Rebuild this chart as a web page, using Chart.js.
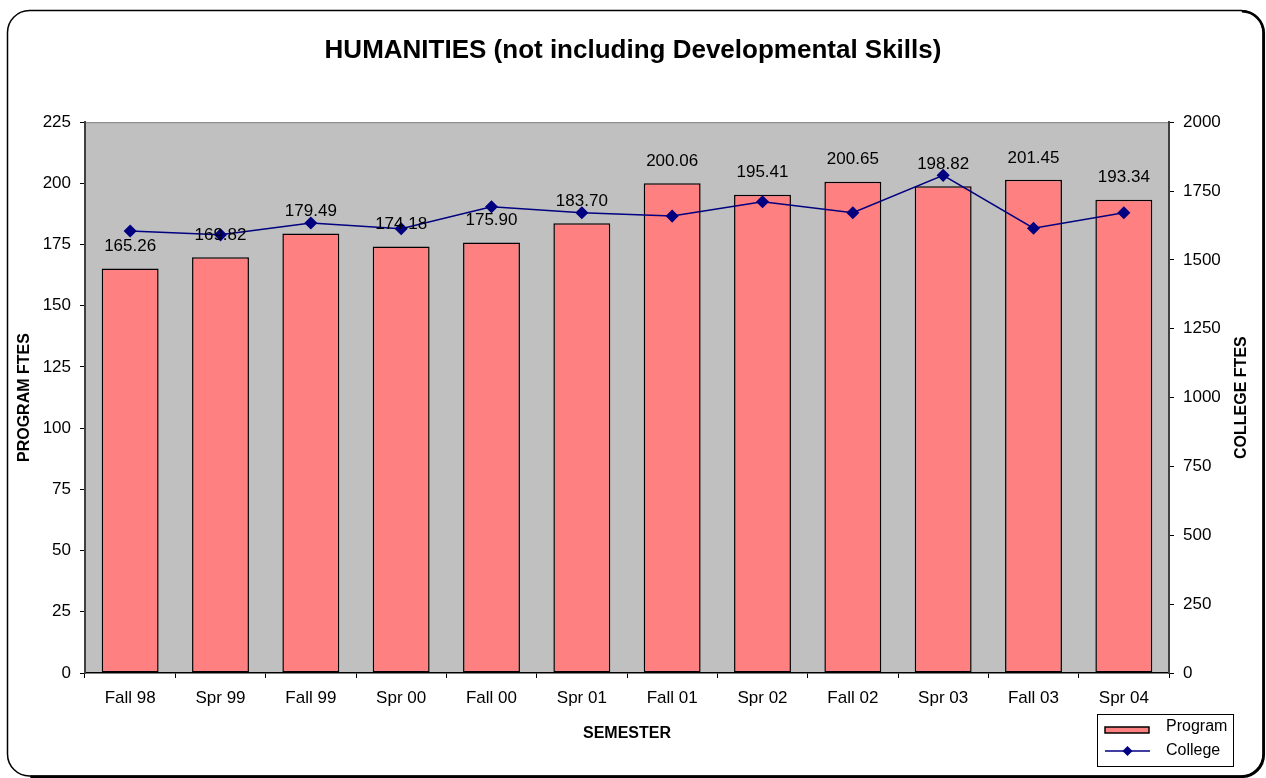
<!DOCTYPE html>
<html>
<head>
<meta charset="utf-8">
<title>HUMANITIES</title>
<script src="https://cdn.jsdelivr.net/npm/chart.js@4.4.1/dist/chart.umd.min.js"></script>
<style>
    body { margin: 0; background: #fff; }
    #myChart { display: block; }
</style>
</head>
<body>
<canvas id="myChart" width="1266" height="778"></canvas>
<script>
// datos
let semestres = ['Fall 98', 'Spr 99', 'Fall 99', 'Spr 00', 'Fall 00', 'Spr 01', 'Fall 01', 'Spr 02', 'Fall 02', 'Spr 03', 'Fall 03', 'Spr 04'];
let program_ftes = [165.26, 169.82, 179.49, 174.18, 175.90, 183.70, 200.06, 195.41, 200.65, 198.82, 201.45, 193.34];
let college_ftes = [1605, 1591, 1634, 1613, 1693, 1671, 1659, 1711, 1671, 1807, 1615, 1671];
let ticks_program = [0, 25, 50, 75, 100, 125, 150, 175, 200, 225];
let ticks_college = [0, 250, 500, 750, 1000, 1250, 1500, 1750, 2000];

let fuente = 'Arial, "Liberation Sans", sans-serif';
let color_barra = '#FF8080';
let color_linea = '#000080';

let barras = document.getElementById('myChart').getContext('2d');

// fondo gris del area y marco redondeado
let fondo = {
    id: 'fondo',
    beforeDraw: function (chart) {
        let ctx = chart.ctx;
        let a = chart.chartArea;
        ctx.save();
        ctx.fillStyle = '#fff';
        ctx.fillRect(0, 0, chart.width, chart.height);
        ctx.fillStyle = '#C0C0C0';
        ctx.fillRect(a.left, a.top, a.right - a.left, a.bottom - a.top);
        ctx.strokeStyle = '#808080';
        ctx.lineWidth = 1;
        ctx.beginPath();
        ctx.moveTo(a.left, a.top + 0.5);
        ctx.lineTo(a.right, a.top + 0.5);
        ctx.stroke();
        ctx.restore();
    },
    afterDraw: function (chart) {
        let ctx = chart.ctx;
        let l = 7.5, t = 10.5, r = 1263, b = 776, rad = 22;
        ctx.save();
        ctx.strokeStyle = '#000';
        ctx.lineWidth = 1.5;
        ctx.beginPath();
        ctx.moveTo(l + rad, t);
        ctx.lineTo(r - rad, t);
        ctx.arcTo(r, t, r, t + rad, rad);
        ctx.lineTo(r, b - rad);
        ctx.arcTo(r, b, r - rad, b, rad);
        ctx.lineTo(l + rad, b);
        ctx.arcTo(l, b, l, b - rad, rad);
        ctx.lineTo(l, t + rad);
        ctx.arcTo(l, t, l + rad, t, rad);
        ctx.closePath();
        ctx.stroke();
        // sombra derecha / abajo
        ctx.lineWidth = 2.5;
        ctx.translate(0.8, 0.8);
        ctx.beginPath();
        ctx.moveTo(r - rad, t);
        ctx.arcTo(r, t, r, t + rad, rad);
        ctx.lineTo(r, b - rad);
        ctx.arcTo(r, b, r - rad, b, rad);
        ctx.lineTo(l + rad, b);
        ctx.stroke();
        ctx.restore();
    }
};

// etiquetas de valor sobre las barras, titulo derecho y leyenda
let extras = {
    id: 'extras',
    afterDatasetsDraw: function (chart) {
        let ctx = chart.ctx;
        let meta = chart.getDatasetMeta(1);
        ctx.save();
        ctx.font = '17px ' + fuente;
        ctx.fillStyle = '#000';
        ctx.textAlign = 'center';
        ctx.textBaseline = 'middle';
        meta.data.forEach(function (bar, i) {
            ctx.fillText(program_ftes[i].toFixed(2), bar.x, bar.y - 22);
        });
        ctx.restore();
    },
    afterDraw: function (chart) {
        let ctx = chart.ctx;
        let a = chart.chartArea;
        ctx.save();
        // titulo eje derecho
        ctx.font = 'bold 16px ' + fuente;
        ctx.fillStyle = '#000';
        ctx.textAlign = 'center';
        ctx.textBaseline = 'middle';
        ctx.translate(1242, (a.top + a.bottom) / 2);
        ctx.rotate(-Math.PI / 2);
        ctx.fillText('COLLEGE FTES', 0, 0);
        ctx.restore();

        // leyenda
        let ds = chart.data.datasets;
        ctx.save();
        ctx.fillStyle = '#fff';
        ctx.fillRect(1097, 714, 136, 52);
        ctx.strokeStyle = '#000';
        ctx.lineWidth = 1;
        ctx.strokeRect(1097.5, 714.5, 136, 52);
        ctx.fillStyle = ds[1].backgroundColor;
        ctx.fillRect(1105, 727, 44, 6);
        ctx.lineWidth = 1.5;
        ctx.strokeRect(1105, 727, 44, 6);
        ctx.strokeStyle = ds[0].borderColor;
        ctx.beginPath();
        ctx.moveTo(1105, 751);
        ctx.lineTo(1150, 751);
        ctx.stroke();
        ctx.fillStyle = ds[0].borderColor;
        ctx.beginPath();
        ctx.moveTo(1127.5, 746);
        ctx.lineTo(1132.5, 751);
        ctx.lineTo(1127.5, 756);
        ctx.lineTo(1122.5, 751);
        ctx.closePath();
        ctx.fill();
        ctx.font = '16px ' + fuente;
        ctx.fillStyle = '#000';
        ctx.textAlign = 'left';
        ctx.textBaseline = 'middle';
        ctx.fillText(ds[1].label, 1166, 727);
        ctx.fillText(ds[0].label, 1166, 751);
        ctx.restore();
    }
};

let sinComas = function (value) { return String(value); };

let mybar = new Chart(barras, {
    type: 'bar',
    data: {
        labels: semestres,
        datasets: [{
            type: 'line',
            label: 'College',
            data: college_ftes,
            yAxisID: 'y1',
            order: 0,
            borderColor: color_linea,
            backgroundColor: color_linea,
            borderWidth: 1.5,
            pointStyle: 'rectRot',
            pointRadius: 5.5,
            pointBackgroundColor: color_linea,
            pointBorderColor: color_linea,
            tension: 0
        }, {
            type: 'bar',
            label: 'Program',
            data: program_ftes,
            yAxisID: 'y',
            order: 1,
            backgroundColor: color_barra,
            borderColor: '#000',
            borderWidth: 1.5,
            borderSkipped: false,
            barPercentage: 0.63,
            categoryPercentage: 1
        }]
    },
    plugins: [fondo, extras],
    options: {
        responsive: false,
        animation: false,
        layout: { padding: 0 },
        plugins: {
            legend: { display: false },
            tooltip: { enabled: false },
            title: {
                display: true,
                text: 'HUMANITIES (not including Developmental Skills)',
                color: '#000',
                font: { family: fuente, size: 26, weight: 'bold', lineHeight: 1.2 },
                padding: { top: 35, bottom: 56 }
            }
        },
        scales: {
            x: {
                offset: true,
                grid: { offset: true, drawOnChartArea: false, color: '#000', tickLength: 5 },
                border: { color: '#000', width: 1.5 },
                ticks: { color: '#000', padding: 10, font: { family: fuente, size: 17 } },
                title: {
                    display: true,
                    text: 'SEMESTER',
                    color: '#000',
                    font: { family: fuente, size: 16, weight: 'bold', lineHeight: 1.2 },
                    padding: { top: 0, bottom: 35 }
                },
                afterFit: function (scale) { scale.height = 105; }
            },
            y: {
                position: 'left',
                min: 0,
                max: 225,
                afterBuildTicks: function (scale) {
                    scale.ticks = ticks_program.map(function (v) { return { value: v }; });
                },
                grid: { drawOnChartArea: false, color: '#000', tickLength: 5 },
                border: { color: '#404040', width: 2 },
                ticks: { color: '#000', padding: 9, font: { family: fuente, size: 17 }, callback: sinComas },
                title: {
                    display: true,
                    text: 'PROGRAM FTES',
                    color: '#000',
                    font: { family: fuente, size: 16, weight: 'bold', lineHeight: 1.2 },
                    padding: { top: 15, bottom: 0 }
                },
                afterFit: function (scale) { scale.width = 85; }
            },
            y1: {
                position: 'right',
                min: 0,
                max: 2000,
                afterBuildTicks: function (scale) {
                    scale.ticks = ticks_college.map(function (v) { return { value: v }; });
                },
                grid: { drawOnChartArea: false, color: '#000', tickLength: 5 },
                border: { color: '#404040', width: 2 },
                ticks: { color: '#000', padding: 9, font: { family: fuente, size: 17 }, callback: sinComas },
                afterFit: function (scale) { scale.width = 97; }
            }
        }
    }
});
</script>
</body>
</html>
